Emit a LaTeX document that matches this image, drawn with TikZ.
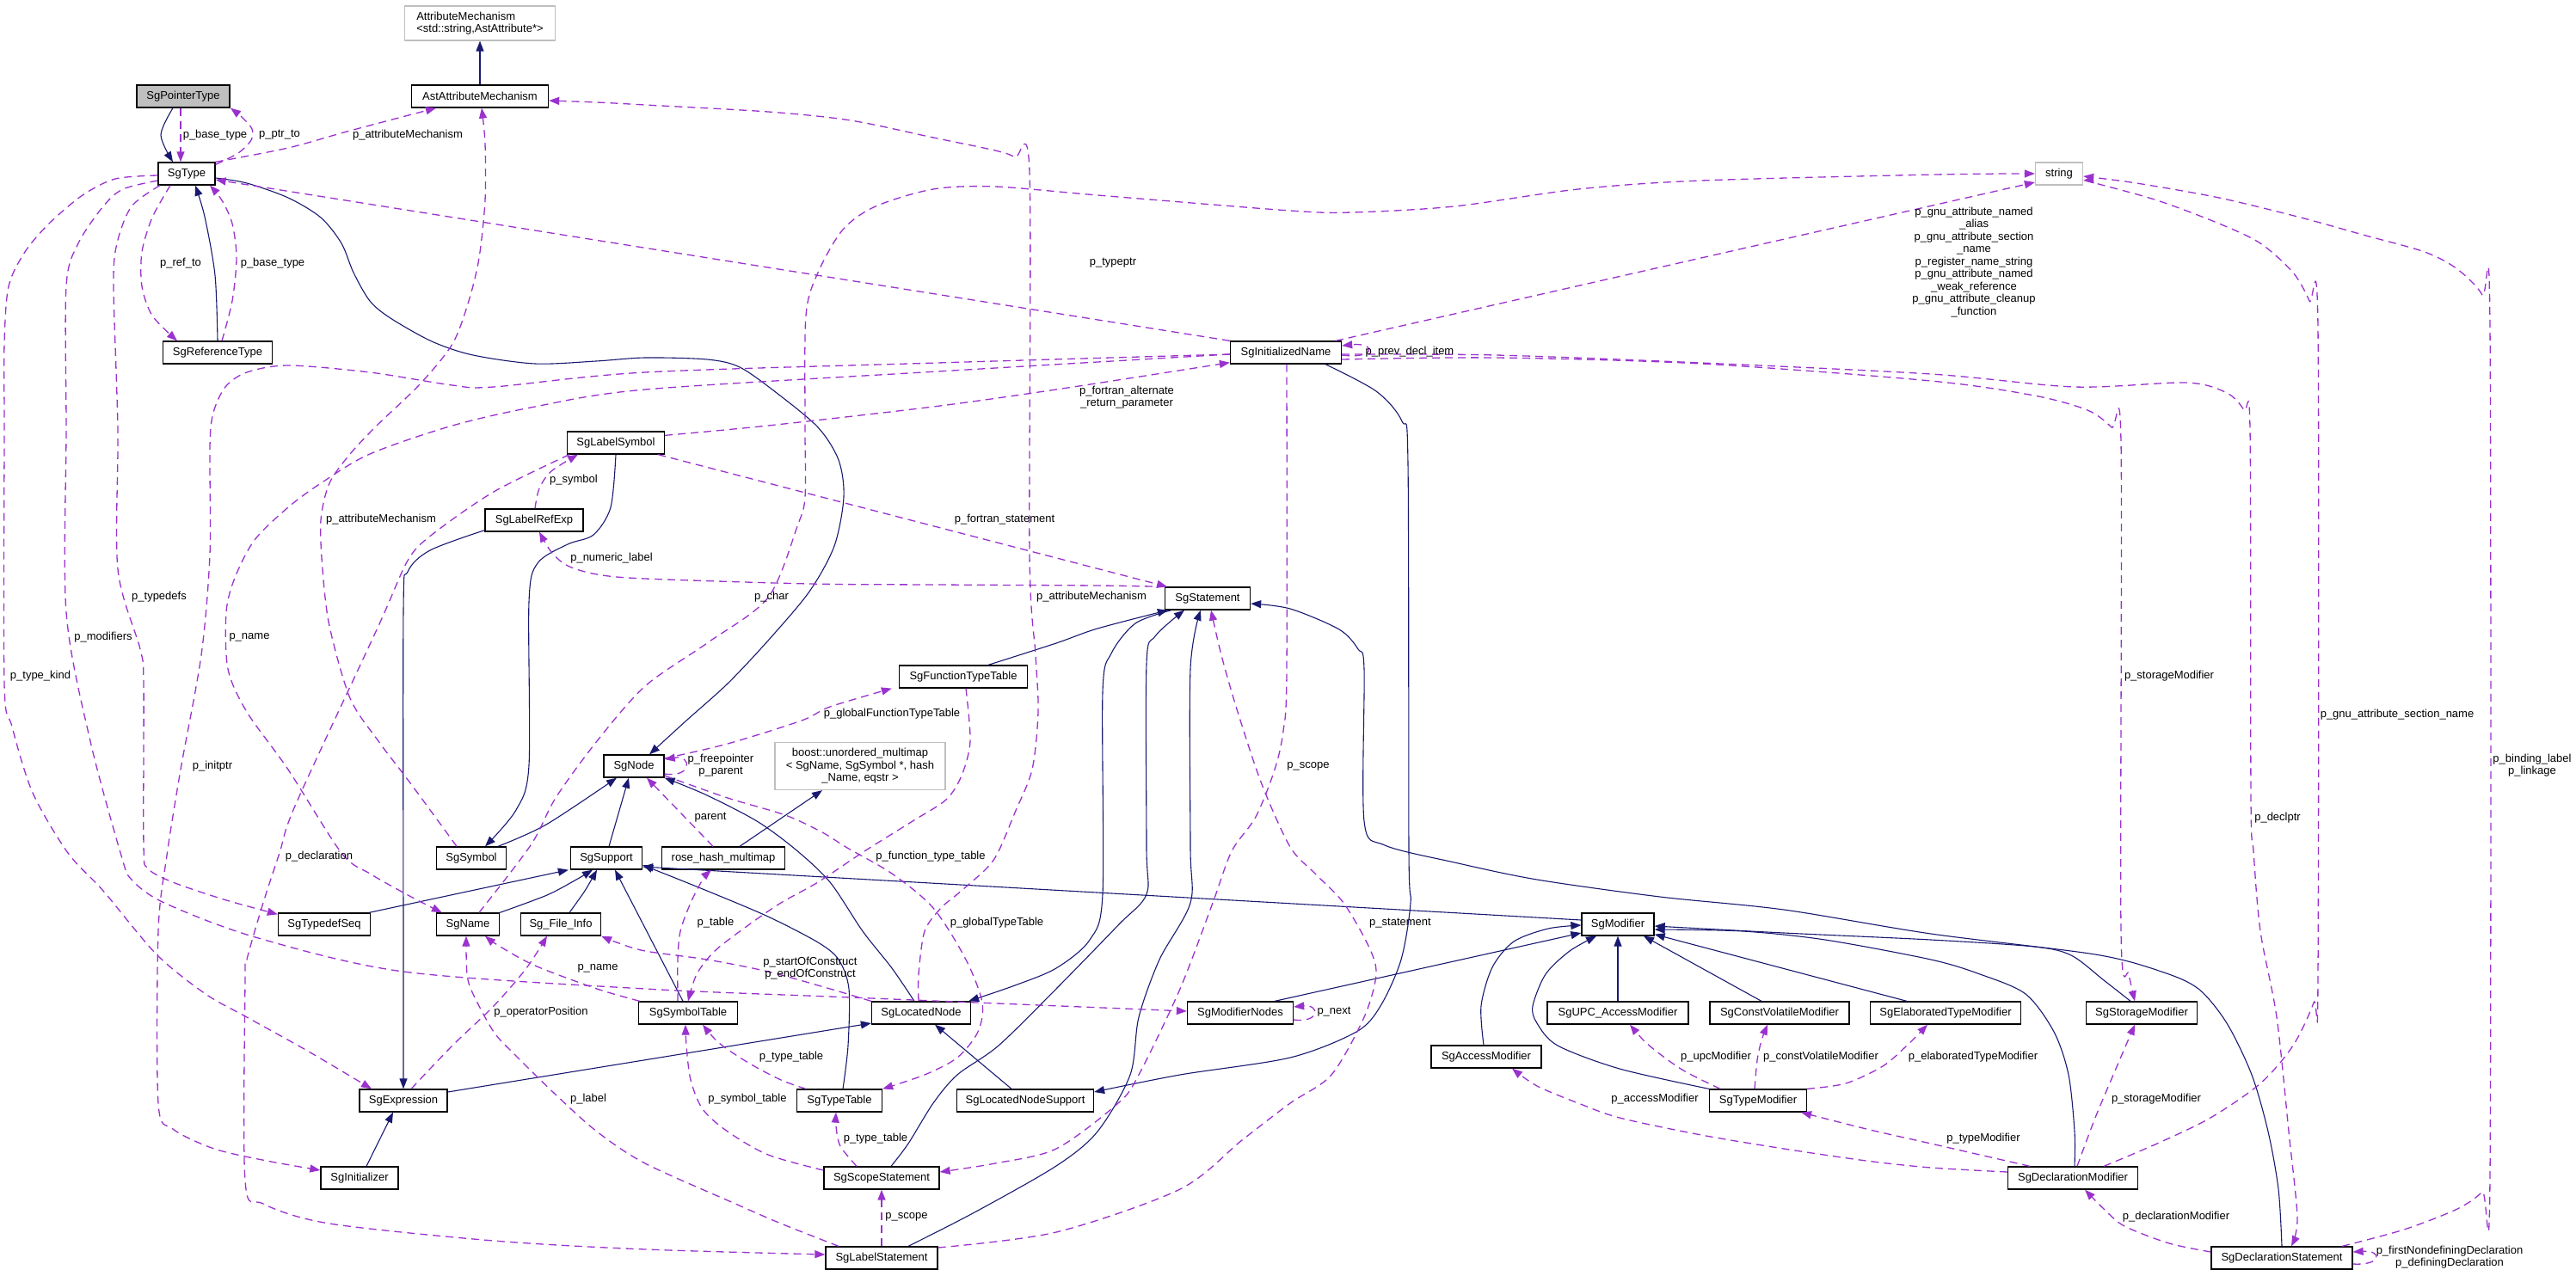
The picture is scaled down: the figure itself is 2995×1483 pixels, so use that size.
\documentclass[tikz,border=0pt]{standalone}
\usepackage{fontspec}
\setmainfont{Liberation Sans}
\usetikzlibrary{arrows.meta}
\definecolor{inhblue}{RGB}{25,25,112}
\definecolor{deppurple}{RGB}{154,50,205}
\definecolor{extgray}{RGB}{191,191,191}
\newcommand{\diagfont}{\fontsize{13pt}{14.5pt}\selectfont}
\tikzset{
  cls/.style={draw=black, line width=1.3pt, fill=white, inner sep=0pt, minimum height=26pt, font=\diagfont},
  ext/.style={draw=extgray, line width=1.3pt, fill=white, inner sep=0pt, font=\diagfont},
  lab/.style={inner sep=0pt, font=\diagfont, align=center},
  inh/.style={draw=inhblue, line width=1.1pt, -{Triangle[length=12pt,width=9pt]}},
  dep/.style={draw=deppurple, line width=1.3pt, dash pattern=on 9pt off 6pt, -{Triangle[length=12pt,width=9pt]}}
}
\begin{document}
\begin{tikzpicture}[x=1pt,y=-1pt]
\useasboundingbox (0,0) rectangle (2995,1483);
% ---------- nodes ----------
\node[ext, minimum width=175pt, minimum height=40pt, align=left] (attrmech) at (558,27) {AttributeMechanism\\<std::string,AstAttribute*>};
\node[cls, minimum width=159pt] (astattr) at (558,112) {AstAttributeMechanism};
\node[cls, minimum width=108pt, fill=extgray] (ptrtype) at (213,112) {SgPointerType};
\node[cls, minimum width=66pt] (sgtype) at (217,202) {SgType};
\node[cls, minimum width=127pt] (reftype) at (253,410) {SgReferenceType};
\node[cls, minimum width=129pt] (initname) at (1495,410) {SgInitializedName};
\node[ext, minimum width=55pt, minimum height=26pt] (string) at (2394,202) {string};
\node[cls, minimum width=113pt] (labelsym) at (716,515) {SgLabelSymbol};
\node[cls, minimum width=114pt] (labelref) at (621,605) {SgLabelRefExp};
\node[cls, minimum width=99pt] (statement) at (1404,696) {SgStatement};
\node[cls, minimum width=149pt] (functt) at (1120,787) {SgFunctionTypeTable};
\node[cls, minimum width=70pt] (sgnode) at (737,891) {SgNode};
\node[ext, minimum width=198pt, minimum height=55pt, align=center] (boost) at (1000,891) {boost::unordered\_multimap\\< SgName, SgSymbol *, hash\\\_Name, eqstr >};
\node[cls, minimum width=81pt] (symbol) at (548,998) {SgSymbol};
\node[cls, minimum width=83pt] (support) at (705,998) {SgSupport};
\node[cls, minimum width=143pt] (rosehash) at (841,998) {rose\_hash\_multimap};
\node[cls, minimum width=107pt] (typedefseq) at (377,1075) {SgTypedefSeq};
\node[cls, minimum width=73pt] (sgname) at (544,1075) {SgName};
\node[cls, minimum width=93pt] (fileinfo) at (652,1075) {Sg\_File\_Info};
\node[cls, minimum width=84pt] (modifier) at (1881,1075) {SgModifier};
\node[cls, minimum width=115pt] (symtab) at (800,1178) {SgSymbolTable};
\node[cls, minimum width=115pt] (locnode) at (1071,1178) {SgLocatedNode};
\node[cls, minimum width=123pt] (modnodes) at (1442,1178) {SgModifierNodes};
\node[cls, minimum width=164pt] (upcmod) at (1881,1178) {SgUPC\_AccessModifier};
\node[cls, minimum width=162pt] (cvmod) at (2069,1178) {SgConstVolatileModifier};
\node[cls, minimum width=175pt] (elabmod) at (2262,1178) {SgElaboratedTypeModifier};
\node[cls, minimum width=129pt] (stormod) at (2490,1178) {SgStorageModifier};
\node[cls, minimum width=128pt] (accmod) at (1728,1229) {SgAccessModifier};
\node[cls, minimum width=102pt] (expr) at (469,1280) {SgExpression};
\node[cls, minimum width=99pt] (typetable) at (976,1280) {SgTypeTable};
\node[cls, minimum width=159pt] (locsupp) at (1192,1280) {SgLocatedNodeSupport};
\node[cls, minimum width=113pt] (typemod) at (2044,1280) {SgTypeModifier};
\node[cls, minimum width=90pt] (initializer) at (418,1370) {SgInitializer};
\node[cls, minimum width=134pt] (scopestmt) at (1025,1370) {SgScopeStatement};
\node[cls, minimum width=151pt] (declmod) at (2410,1370) {SgDeclarationModifier};
\node[cls, minimum width=130pt] (labelstmt) at (1025,1463) {SgLabelStatement};
\node[cls, minimum width=164pt] (declstmt) at (2653,1463) {SgDeclarationStatement};
% ---------- inheritance (solid) ----------
\draw[inh] plot[smooth] coordinates {([xshift=-12pt]ptrtype.south) (187,157) ([xshift=-16pt]sgtype.north)};
\draw[inh] (astattr) -- (attrmech);
\draw[inh] plot[smooth] coordinates {(reftype.north) (250,320) (238,252) ([xshift=10pt]sgtype.south)};
\draw[inh] plot[smooth] coordinates {([yshift=-5pt]sgtype.east) (287,213) (335,230) (373,253) (397,283) (411,317) (430,350) (454,370) (502,397) (550,413) (622,423) (693,420) (750,416) (822,418) (860,427) (903,457) (951,497) (975,535) (981,578) (970,635) (941,688) (893,745) (846,795) (798,838) ([xshift=18pt]sgnode.north)};
\draw[inh] plot[smooth] coordinates {(labelsym.south) (710,590) (690,622) (660,633) (625,655) (615,700) (615,890) (600,942) ([xshift=16pt]symbol.north)};
\draw[inh] plot[smooth] coordinates {([yshift=2pt]labelref.south west) (500,640) (474,665) (469,710) (469,1100) (expr.north)};
\draw[inh] plot[smooth] coordinates {([xshift=31pt]symbol.north) (635,959) ([xshift=-20pt]sgnode.south)};
\draw[inh] ([xshift=3pt]support.north) -- ([xshift=-6pt]sgnode.south);
\draw[inh] ([xshift=19pt]rosehash.north) -- ([xshift=-44pt]boost.south);
\draw[inh] plot[smooth] coordinates {([xshift=-8pt]locnode.north) (1037,1126) (1003,1083) (965,1026) (925,988) (880,955) (820,924) (sgnode.south east)};
\draw[inh] plot[smooth] coordinates {([xshift=29pt]functt.north) (1228,748) (1276,731) ([xshift=4pt]statement.south west)};
\draw[inh] plot[smooth] coordinates {([xshift=11pt]scopestmt.north) (1056,1330) (1085,1283) (1113,1250) (1161,1216) (1228,1150) (1300,1076) (1333,1040) (1333,985) (1333,772) (1343,740) ([xshift=-27pt]statement.south)};
\draw[inh] plot[smooth] coordinates {([xshift=8pt]statement.south west) (1320,725) (1292,760) (1282,805) (1282,1040) (1267,1093) (1228,1126) (1180,1146) ([xshift=-3pt]locnode.north east)};
\draw[inh] plot[smooth] coordinates {([xshift=31pt]labelstmt.north) (1133,1410) (1228,1356) (1276,1316) (1314,1250) (1324,1183) (1348,1116) (1384,1050) (1384,985) (1384,778) ([xshift=-8pt]statement.south)};
\draw[inh] ([xshift=-2pt]typedefseq.north east) -- ([xshift=-2pt]support.south west);
\draw[inh] plot[smooth] coordinates {(sgname.north east) (636,1041) (670,1023) ([xshift=-16pt]support.south)};
\draw[inh] plot[smooth] coordinates {([xshift=10pt]fileinfo.north) (680,1036) ([xshift=-11pt]support.south)};
\draw[inh] ([xshift=-6pt]symtab.north) -- ([xshift=10pt]support.south);
\draw[inh] plot[smooth] coordinates {([xshift=4pt]typetable.north) (986,1216) (987,1150) (975,1116) (951,1096) (893,1066) (822,1036) ([yshift=-8pt]support.east)};
\draw[inh] ([yshift=5pt]modifier.west) -- ([yshift=-10pt]support.east);
\draw[inh] ([yshift=10pt]expr.east) -- ([yshift=-12pt]locnode.west);
\draw[inh] ([xshift=8pt]initializer.north) -- ([xshift=-12pt]expr.south);
\draw[inh] ([xshift=-16pt]locsupp.north) -- ([xshift=16pt]locnode.south);
\draw[inh] plot[smooth] coordinates {([xshift=46pt]initname.south) (1600,455) (1630,490) (1637,540) (1638,990) (1640,1050) (1629,1116) (1605,1170) (1577,1200) (1500,1230) (1372,1250) ([yshift=10pt]locsupp.east)};
\draw[inh] ([xshift=40pt]modnodes.north) -- ([yshift=-10pt]modifier.west);
\draw[inh] plot[smooth] coordinates {([xshift=-3pt]accmod.north) (1722,1170) (1735,1125) (1760,1095) (1800,1080) ([yshift=-1pt]modifier.west)};
\draw[inh] (upcmod) -- (modifier);
\draw[inh] ([xshift=-21pt]cvmod.north) -- ([xshift=30pt]modifier.south);
\draw[inh] ([xshift=-45pt]elabmod.north) -- ([yshift=2pt]modifier.south east);
\draw[inh] plot[smooth] coordinates {(typemod.north west) (1883,1243) (1811,1216) (1787,1190) (1782,1170) (1797,1133) (1825,1106) ([xshift=-25pt]modifier.south)};
\draw[inh] plot[smooth] coordinates {([xshift=-13pt]stormod.north) (2446,1140) (2408,1111) (2365,1101) (2245,1093) (2074,1085) ([yshift=-2pt]modifier.east)};
\draw[inh] plot[smooth] coordinates {([xshift=2pt]declmod.north) (2412,1316) (2405,1250) (2388,1200) (2355,1156) (2302,1133) (2245,1116) (2122,1093) (2026,1083) ([yshift=-6pt]modifier.east)};
\draw[inh] plot[smooth] coordinates {(declstmt.north) (2649,1383) (2637,1316) (2618,1250) (2589,1190) (2556,1150) (2513,1130) (2436,1110) (2245,1086) (2074,1058) (1930,1043) (1787,1023) (1691,1003) (1610,983) (1586,955) (1586,778) (1579,755) (1557,732) (1500,708) ([yshift=-6pt]statement.east)};
% ---------- usage (dashed) ----------
\draw[dep] ([xshift=-3pt]ptrtype.south) -- ([xshift=-7pt]sgtype.north);
\draw[dep] plot[smooth] coordinates {([yshift=-3pt]sgtype.north east) (277,178) (292,163) (293,150) (282,137) ([xshift=55pt]ptrtype.south)};
\draw[dep] plot[smooth] coordinates {(sgtype.north east) (335,172) (407,152) ([xshift=-51pt]astattr.south)};
\draw[dep] plot[smooth] coordinates {([xshift=-19pt]sgtype.south) (177,253) (165,293) (165,333) (177,367) ([xshift=-47pt]reftype.north)};
\draw[dep] plot[smooth] coordinates {([xshift=5pt]reftype.north) (270,350) (275,300) (270,260) (258,233) ([xshift=27pt]sgtype.south)};
\draw[dep] (initname.north west) -- ([yshift=-7pt]sgtype.east);
\draw[dep] plot[smooth] coordinates {([yshift=-2pt]initname.west) (1090,432) (750,453) (622,473) (526,495) (430,528) (373,562) (335,590) (296,628) (273,672) (263,712) (265,778) (287,828) (335,895) (397,992) (430,1016) (478,1043) ([xshift=7pt]sgname.north west)};
\draw[dep] plot[smooth] coordinates {([yshift=-2pt]initname.west) (1090,422) (750,433) (574,450) (526,448) (430,433) (335,425) (287,433) (262,450) (248,480) (244,520) (244,645) (234,762) (210,895) (194,995) (184,1083) (184,1283) (201,1313) (249,1336) (310,1350) ([yshift=9pt]initializer.west)};
\draw[dep] plot[smooth] coordinates {([xshift=-54pt]labelsym.south) (574,572) (502,622) (474,652) (440,728) (344,935) (325,992) (306,1050) (287,1116) (285,1140) (285,1373) (306,1400) (383,1423) (574,1443) (750,1453) ([yshift=4pt]labelstmt.west)};
\draw[dep] plot[smooth] coordinates {([yshift=-2pt]sgtype.west) (134,208) (96,227) (57,260) (29,293) (10,333) (5,400) (5,500) (5,795) (14,845) (38,922) (79,992) (120,1036) (182,1110) (239,1156) (287,1183) (359,1223) ([xshift=-37pt]expr.north)};
\draw[dep] plot[smooth] coordinates {([yshift=-8pt]sgtype.west) (143,220) (120,240) (91,283) (77,333) (77,500) (77,712) (105,862) (141,995) (153,1023) (191,1050) (297,1090) (469,1130) (750,1150) (989,1160) ([yshift=2pt]modnodes.west)};
\draw[dep] plot[smooth] coordinates {([xshift=-31pt]sgtype.south) (153,240) (136,283) (132,333) (137,500) (137,662) (163,755) (167,795) (167,983) (172,1010) (201,1026) (260,1046) ([yshift=-2pt]typedefseq.north west)};
\draw[dep] plot[smooth] coordinates {([xshift=-17pt]symbol.north) (478,912) (440,862) (407,812) (383,728) (375,662) (373,605) (383,562) (407,528) (438,495) (488,447) (526,400) (545,350) (557,300) (564,233) (564,167) ([xshift=2pt]astattr.south)};
\draw[dep] plot[smooth] coordinates {([xshift=1pt]labelref.north) (627,568) (641,548) ([xshift=-44pt]labelsym.south)};
\draw[dep] plot[smooth] coordinates {([xshift=1pt]statement.north west) (1276,681) (1085,680) (941,679) (750,673) (694,668) (660,658) (641,642) ([xshift=6pt]labelref.south)};
\draw[dep] ([xshift=-8pt]labelsym.south east) -- ([xshift=-47pt]statement.north);
\draw[dep] plot[smooth] coordinates {([yshift=-5pt]labelsym.north east) (893,495) (1085,473) (1228,453) ([yshift=2pt]initname.south west)};
\draw[dep] ([yshift=-3pt]initname.east) .. controls (1600,418) and (1600,398) .. ([yshift=8pt]initname.east);
\draw[dep] ([xshift=58pt]initname.north) -- ([yshift=-10pt]string.west);
\draw[dep] plot[smooth] coordinates {([xshift=13pt]sgname.north) (617,983) (646,928) (694,862) (750,798) (822,748) (893,695) (927,612) (936,578) (936,495) (937,367) (951,317) (980,267) (1018,240) (1085,220) (1157,217) (1276,227) (1500,245) (1572,247) (1691,240) (1835,220) (1978,210) (2250,203) (string.west)};
\draw[dep] plot[smooth] coordinates {([xshift=-3pt]locnode.north) (1068,1133) (1075,1083) (1094,1056) (1113,1040) (1147,1010) (1161,990) (1180,945) (1200,895) (1207,828) (1204,762) (1197,645) (1197,200) (1180,183) (1157,175) (1085,160) (989,140) (893,130) (750,122) (694,119) ([yshift=-5pt]astattr.east)};
\draw[dep] plot[smooth] coordinates {([yshift=-8pt]initname.east) (1739,416) (1978,423) (2245,443) (2365,460) (2427,477) (2455,497) (2466,515) (2466,1083) (2475,1133) ([xshift=-8pt]stormod.north)};
\draw[dep] plot[smooth] coordinates {([yshift=-2pt]initname.east) (1739,413) (1978,422) (2245,435) (2412,450) (2542,445) (2589,457) (2609,477) (2616,500) (2617,928) (2620,990) (2628,1083) (2647,1183) (2661,1316) (2671,1416) ([xshift=11pt]declstmt.north)};
\draw[dep] plot[smooth] coordinates {([xshift=1pt]initname.south) (1496,780) (1492,850) (1482,895) (1460,950) (1432,990) (1410,1050) (1372,1150) (1324,1250) (1300,1283) (1228,1336) (1157,1353) ([yshift=7pt]scopestmt.east)};
\draw[dep] plot[smooth] coordinates {([yshift=12pt]labelstmt.east) (1228,1433) (1372,1383) (1444,1326) (1500,1283) (1548,1250) (1586,1183) (1600,1133) (1591,1100) (1562,1050) (1529,1016) (1500,985) (1467,912) (1439,828) (1420,762) ([xshift=4pt]statement.south)};
\draw[dep] ([yshift=-8pt]modnodes.east) .. controls (1535,1190) and (1535,1168) .. ([yshift=7pt]modnodes.east);
\draw[dep] plot[smooth] coordinates {(locnode.north west) (965,1150) (893,1130) (822,1116) (750,1106) (717,1096) (fileinfo.south east)};
\draw[dep] plot[smooth] coordinates {([xshift=2pt]symtab.north west) (694,1150) (622,1123) (580,1100) ([xshift=20pt]sgname.south)};
\draw[dep] plot[smooth] coordinates {([xshift=9pt]expr.north) (526,1216) (574,1170) (612,1126) ([xshift=-16pt]fileinfo.south)};
\draw[dep] plot[smooth] coordinates {([xshift=-50pt]labelstmt.north) (908,1423) (855,1400) (750,1353) (694,1316) (646,1273) (598,1226) (574,1200) (550,1156) (543,1133) ([xshift=-2pt]sgname.south)};
\draw[dep] plot[smooth] coordinates {([xshift=-12pt]symtab.north) (788,1116) (791,1083) (803,1050) (817,1023) ([xshift=-14pt]rosehash.south)};
\draw[dep] plot[smooth] coordinates {([yshift=9pt]scopestmt.west) (893,1343) (846,1316) (817,1290) (803,1256) (798,1216) ([xshift=-3pt]symtab.south)};
\draw[dep] plot[smooth] coordinates {([xshift=-39pt]typetable.north) (908,1256) (870,1236) (836,1213) ([xshift=17pt]symtab.south)};
\draw[dep] plot[smooth] coordinates {([xshift=-29pt]scopestmt.north) (977,1333) (972,1310) ([xshift=-4pt]typetable.south)};
\draw[dep] (labelstmt) -- (scopestmt);
\draw[dep] plot[smooth] coordinates {([yshift=-11pt]sgnode.east) (846,928) (913,948) (956,968) (985,986) (1037,1016) (1085,1056) (1123,1116) (1142,1166) (1137,1200) (1113,1230) (1075,1250) (typetable.north east)};
\draw[dep] plot[smooth] coordinates {([xshift=3pt]functt.south) (1128,862) (1118,902) (1100,930) (1061,955) (1005,990) (951,1026) (908,1050) (870,1076) (831,1106) (810,1133) (symtab.north)};
\draw[dep] plot[smooth] coordinates {([yshift=9pt]sgnode.east) (846,865) (932,838) (965,822) ([xshift=-8pt]functt.south west)};
\draw[dep] ([yshift=-9pt]sgnode.east) .. controls (805,905) and (805,878) .. ([yshift=8pt]sgnode.east);
\draw[dep] ([xshift=-12pt]rosehash.north) -- ([xshift=15pt]sgnode.south);
\draw[dep] plot[smooth] coordinates {([xshift=36pt]declmod.north) (2508,1330) (2570,1300) (2628,1260) (2666,1216) (2690,1166) (2695,1133) (2695,383) (2685,350) (2666,317) (2628,283) (2580,260) (2508,233) (2436,213) ([yshift=-8pt]string.east)};
\draw[dep] plot[smooth] coordinates {([xshift=70pt]declstmt.north) (2795,1430) (2857,1406) (2886,1386) (2895,1366) (2895,383) (2886,343) (2857,313) (2819,293) (2747,273) (2675,253) (2580,230) (2484,213) ([yshift=-3pt]string.east)};
\draw[dep] plot[smooth] coordinates {([yshift=7pt]declmod.west) (2245,1358) (2170,1350) (2074,1336) (1978,1320) (1883,1300) (1835,1283) (1787,1263) ([xshift=30pt]accmod.south)};
\draw[dep] plot[smooth] coordinates {([xshift=-50pt]declmod.north) (2293,1341) (2245,1330) (2170,1313) ([xshift=50pt]typemod.south)};
\draw[dep] plot[smooth] coordinates {([xshift=5pt]declmod.north) (2436,1300) (2460,1243) ([xshift=-8pt]stormod.south)};
\draw[dep] plot[smooth] coordinates {([yshift=7pt]declstmt.west) (2522,1446) (2470,1426) (2446,1406) ([xshift=14pt]declmod.south)};
\draw[dep] ([yshift=-7pt]declstmt.east) .. controls (2770,1472) and (2770,1454) .. ([yshift=7pt]declstmt.east);
\draw[dep] plot[smooth] coordinates {([xshift=-44pt]typemod.north) (1959,1246) (1930,1226) (1911,1210) ([xshift=14pt]upcmod.south)};
\draw[dep] plot[smooth] coordinates {([xshift=-4pt]typemod.north) (2043,1233) (2048,1210) ([xshift=-14pt]cvmod.south)};
\draw[dep] plot[smooth] coordinates {(typemod.north east) (2146,1260) (2189,1240) (2217,1216) ([xshift=-21pt]elabmod.south)};
% ---------- labels ----------
\node[lab] (l1) at (250,157) {p\_base\_type};
\node[lab] (l2) at (325,157) {p\_ptr\_to};
\node[lab] (l3) at (474,157) {p\_attributeMechanism};
\node[lab] (l4) at (210,306) {p\_ref\_to};
\node[lab] (l5) at (317,306) {p\_base\_type};
\node[lab] (l6) at (1294,306) {p\_typeptr};
\node[lab] (l7) at (1310,462) {p\_fortran\_alternate\\\_return\_parameter};
\node[lab] (l8) at (1639,409) {p\_prev\_decl\_item};
\node[lab] (l9) at (2295,305) {p\_gnu\_attribute\_named\\\_alias\\p\_gnu\_attribute\_section\\\_name\\p\_register\_name\_string\\p\_gnu\_attribute\_named\\\_weak\_reference\\p\_gnu\_attribute\_cleanup\\\_function};
\node[lab] (l10) at (667,558) {p\_symbol};
\node[lab] (l11) at (443,604) {p\_attributeMechanism};
\node[lab] (l12) at (711,649) {p\_numeric\_label};
\node[lab] (l13) at (185,694) {p\_typedefs};
\node[lab] (l14) at (120,741) {p\_modifiers};
\node[lab] (l15) at (290,741) {p\_name};
\node[lab] (l16) at (47,786) {p\_type\_kind};
\node[lab] (l17) at (247,891) {p\_initptr};
\node[lab] (l18) at (1168,604) {p\_fortran\_statement};
\node[lab] (l19) at (897,694) {p\_char};
\node[lab] (l20) at (1269,694) {p\_attributeMechanism};
\node[lab] (l21) at (1037,830) {p\_globalFunctionTypeTable};
\node[lab] (l22) at (838,890) {p\_freepointer\\p\_parent};
\node[lab] (l23) at (826,951) {parent};
\node[lab] (l24) at (1521,891) {p\_scope};
\node[lab] (l25) at (371,996) {p\_declaration};
\node[lab] (l26) at (695,1126) {p\_name};
\node[lab] (l27) at (629,1177) {p\_operatorPosition};
\node[lab] (l28) at (684,1278) {p\_label};
\node[lab] (l29) at (1082,996) {p\_function\_type\_table};
\node[lab] (l30) at (832,1073) {p\_table};
\node[lab] (l31) at (1159,1073) {p\_globalTypeTable};
\node[lab] (l32) at (942,1126) {p\_startOfConstruct\\p\_endOfConstruct};
\node[lab] (l33) at (920,1229) {p\_type\_table};
\node[lab] (l34) at (869,1278) {p\_symbol\_table};
\node[lab] (l35) at (1018,1324) {p\_type\_table};
\node[lab] (l36) at (1054,1415) {p\_scope};
\node[lab] (l37) at (1628,1074) {p\_statement};
\node[lab] (l38) at (1551,1177) {p\_next};
\node[lab] (l39) at (1995,1229) {p\_upcModifier};
\node[lab] (l40) at (2117,1229) {p\_constVolatileModifier};
\node[lab] (l41) at (2294,1229) {p\_elaboratedTypeModifier};
\node[lab] (l42) at (1924,1278) {p\_accessModifier};
\node[lab] (l43) at (2507,1278) {p\_storageModifier};
\node[lab] (l44) at (2306,1324) {p\_typeModifier};
\node[lab] (l45) at (2530,1415) {p\_declarationModifier};
\node[lab] (l46) at (2848,1462) {p\_firstNondefiningDeclaration\\p\_definingDeclaration};
\node[lab] (l47) at (2522,786) {p\_storageModifier};
\node[lab] (l48) at (2787,831) {p\_gnu\_attribute\_section\_name};
\node[lab] (l49) at (2944,890) {p\_binding\_label\\p\_linkage};
\node[lab] (l50) at (2648,951) {p\_declptr};
\end{tikzpicture}
\end{document}
